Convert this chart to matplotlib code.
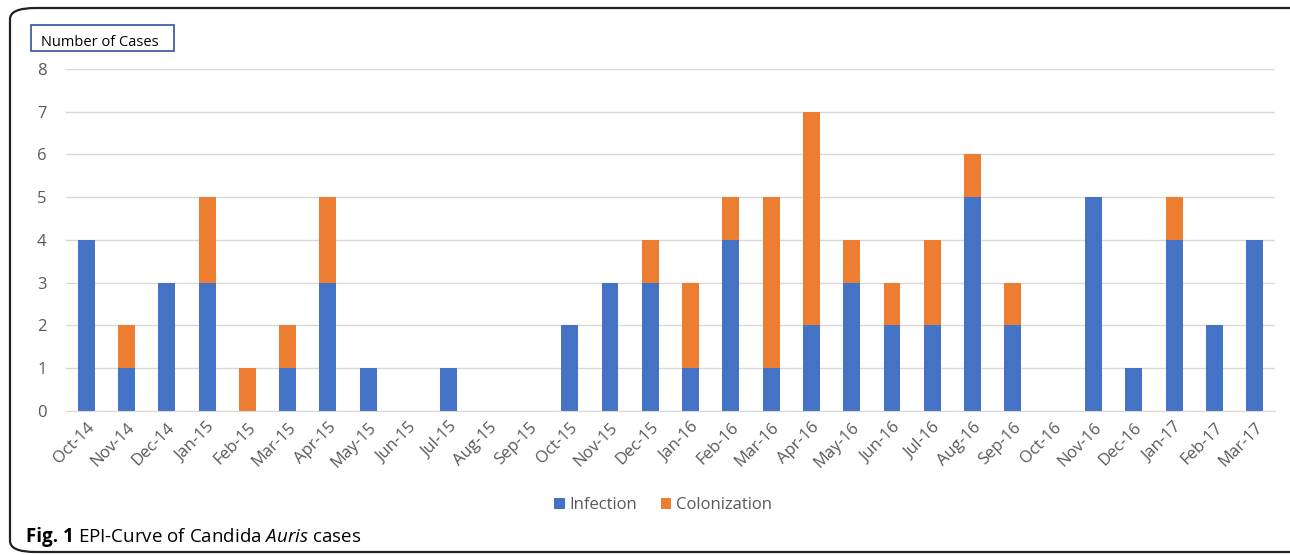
import numpy as np
import matplotlib.pyplot as plt
from matplotlib.patches import FancyBboxPatch, Rectangle

plt.rcParams['font.family'] = ['Open Sans', 'DejaVu Sans']
plt.rcParams['mathtext.fontset'] = 'custom'
plt.rcParams['mathtext.it'] = 'Open Sans:italic'
plt.rcParams['mathtext.rm'] = 'Open Sans'

months = ['Oct-14', 'Nov-14', 'Dec-14', 'Jan-15', 'Feb-15', 'Mar-15', 'Apr-15', 'May-15',
          'Jun-15', 'Jul-15', 'Aug-15', 'Sep-15', 'Oct-15', 'Nov-15', 'Dec-15', 'Jan-16',
          'Feb-16', 'Mar-16', 'Apr-16', 'May-16', 'Jun-16', 'Jul-16', 'Aug-16', 'Sep-16',
          'Oct-16', 'Nov-16', 'Dec-16', 'Jan-17', 'Feb-17', 'Mar-17']
infection = [4, 1, 3, 3, 0, 1, 3, 1, 0, 1, 0, 0, 2, 3, 3, 1,
             4, 1, 2, 3, 2, 2, 5, 2, 0, 5, 1, 4, 2, 4]
colonization = [0, 1, 0, 2, 1, 1, 2, 0, 0, 0, 0, 0, 0, 0, 1, 2,
                1, 4, 5, 1, 1, 2, 1, 1, 0, 0, 0, 1, 0, 0]

blue = '#4472C4'
orange = '#ED7D31'
txt = '#595959'

fig = plt.figure(figsize=(12.9, 5.55), dpi=100)
ax = fig.add_axes([0.0512, 0.2595, 0.937, 0.6162])

x = np.arange(len(months))
ax.bar(x, infection, width=0.42, color=blue, label='Infection', zorder=3)
ax.bar(x, colonization, width=0.42, bottom=infection, color=orange, label='Colonization', zorder=3)

ax.set_xlim(-0.5, len(months) - 0.5)
ax.set_ylim(0, 8)
ax.set_yticks(range(0, 9))
ax.set_xticks(x)
ax.set_xticklabels(months, rotation=45, ha='right', rotation_mode='anchor', fontsize=12, color=txt)
ax.tick_params(axis='y', labelsize=12, labelcolor=txt, length=0, pad=14)
ax.tick_params(axis='x', length=0, pad=6)
ax.grid(axis='y', color='#D9D9D9', linewidth=1, zorder=0)
for s in ['top', 'right', 'left']:
    ax.spines[s].set_visible(False)
ax.spines['bottom'].set_color('#D9D9D9')
ax.spines['bottom'].set_zorder(4)

fig.legend(loc='center', bbox_to_anchor=(0.514, 0.09), ncol=2, frameon=False,
           fontsize=12, labelcolor=txt, handlelength=0.65, handleheight=0.65,
           handletextpad=0.3, columnspacing=1.4)

# outer frame
frame = FancyBboxPatch((10 / 1290, 3 / 555), 1.2, 544 / 555,
                       boxstyle='round,pad=0,rounding_size=0.02',
                       transform=fig.transFigure, fill=False, edgecolor='#222222',
                       linewidth=1.6, clip_on=False)
fig.patches.append(frame)

# "Number of Cases" box
fig.patches.append(Rectangle((31 / 1290, 1 - 51 / 555), 143 / 1290, 26 / 555,
                             transform=fig.transFigure, fill=False,
                             edgecolor='#2F5597', linewidth=1.2))
fig.text(41 / 1290, 1 - 42 / 555, 'Number of Cases', fontsize=10.5, color='black', va='center')

fig.text(26 / 1290, 1 - 537 / 555, 'Fig. 1', fontsize=13.5, fontweight='bold', va='center')
fig.text(78 / 1290, 1 - 537 / 555, 'EPI-Curve of Candida $\\mathit{Auris}$ cases',
         fontsize=13.5, va='center')

fig.savefig('out.png', dpi=100)
